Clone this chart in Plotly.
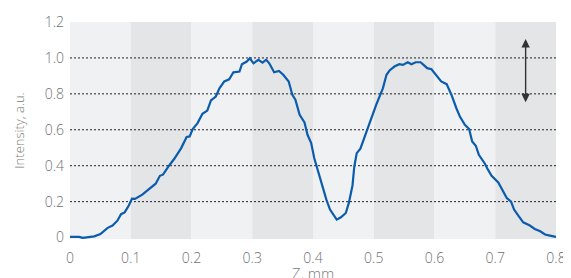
import plotly.graph_objects as go

z_mm = [0.0, 0.015, 0.021, 0.03, 0.04, 0.05, 0.062, 0.07, 0.078, 0.084,
        0.09, 0.097, 0.102, 0.107, 0.119, 0.13, 0.141, 0.148, 0.153, 0.163,
        0.172, 0.183, 0.192, 0.197, 0.202, 0.21, 0.218, 0.226, 0.232, 0.24,
        0.246, 0.254, 0.262, 0.269, 0.279, 0.283, 0.291, 0.296, 0.302, 0.31,
        0.317, 0.323, 0.328, 0.336, 0.344, 0.351, 0.36, 0.366, 0.371, 0.378,
        0.386, 0.391, 0.397, 0.402, 0.408, 0.416, 0.422, 0.428, 0.434, 0.439,
        0.446, 0.454, 0.459, 0.465, 0.468, 0.472, 0.478, 0.483, 0.489, 0.496,
        0.504, 0.515, 0.521, 0.526, 0.534, 0.542, 0.548, 0.556, 0.562, 0.569,
        0.577, 0.582, 0.588, 0.595, 0.603, 0.611, 0.62, 0.628, 0.636, 0.642,
        0.65, 0.657, 0.662, 0.668, 0.673, 0.683, 0.688, 0.694, 0.705, 0.713,
        0.719, 0.726, 0.731, 0.738, 0.746, 0.757, 0.765, 0.774, 0.782, 0.79,
        0.80]
intensity = [0.004, 0.004, -0.002, 0.003, 0.007, 0.02, 0.054, 0.067, 0.094, 0.13,
             0.14, 0.18, 0.217, 0.215, 0.239, 0.27, 0.30, 0.344, 0.35, 0.40,
             0.44, 0.498, 0.56, 0.563, 0.604, 0.637, 0.689, 0.707, 0.763, 0.785,
             0.831, 0.869, 0.881, 0.92, 0.924, 0.965, 0.98, 0.998, 0.97, 0.989,
             0.974, 0.99, 0.97, 0.92, 0.928, 0.906, 0.869, 0.794, 0.767, 0.683,
             0.641, 0.572, 0.526, 0.443, 0.369, 0.276, 0.211, 0.156, 0.122, 0.10,
             0.113, 0.137, 0.193, 0.29, 0.396, 0.47, 0.495, 0.544, 0.60, 0.665,
             0.739, 0.831, 0.906, 0.93, 0.952, 0.965, 0.961, 0.976, 0.965, 0.976,
             0.976, 0.961, 0.943, 0.937, 0.90, 0.869, 0.854, 0.794, 0.72, 0.672,
             0.628, 0.604, 0.535, 0.511, 0.461, 0.411, 0.378, 0.344, 0.307, 0.252,
             0.22, 0.20, 0.156, 0.122, 0.085, 0.067, 0.048, 0.035, 0.017, 0.011,
             0.004]
assert len(z_mm) == len(intensity)

x_ticks = [0, 0.1, 0.2, 0.3, 0.4, 0.5, 0.6, 0.7, 0.8]
x_tick_labels = ["0", "0.1", "0.2", "0.3", "0.4", "0.5", "0.6", "0.7", "0.8"]
y_ticks = [0, 0.2, 0.4, 0.6, 0.8, 1.0, 1.2]
y_tick_labels = ["0", "0.2", "0.4", "0.6", "0.8", "1.0", "1.2"]
grid_levels = [0.2, 0.4, 0.6, 0.8, 1.0]
band_edges = [0, 0.1, 0.2, 0.3, 0.4, 0.5, 0.6, 0.7, 0.8]
arrow_z = 0.75
arrow_low = 0.745
arrow_high = 1.105
x_title = "Z, mm"
y_title = "Intensity, a.u."

LIGHT = "rgb(240,241,243)"
DARK = "rgb(228,229,231)"
TXT = "#707070"
FONT = "Open Sans"

fig = go.Figure()
fig.add_trace(go.Scatter(x=z_mm, y=intensity, mode="lines",
                         line=dict(color="#0b5cad", width=2.2),
                         showlegend=False, hoverinfo="skip"))

shapes = []
for i in range(len(band_edges) - 1):
    shapes.append(dict(type="rect", xref="x", yref="paper",
                       x0=band_edges[i], x1=band_edges[i + 1], y0=0, y1=1,
                       fillcolor=LIGHT if i % 2 == 0 else DARK,
                       line=dict(width=0), layer="below"))
for g in grid_levels:
    shapes.append(dict(type="line", xref="paper", yref="y", x0=0, x1=1, y0=g, y1=g,
                       line=dict(color="#222222", width=1, dash="2px,2px"),
                       layer="below"))

fig.add_annotation(x=arrow_z, y=arrow_high, ax=arrow_z, ay=arrow_low,
                   xref="x", yref="y", axref="x", ayref="y", text="",
                   showarrow=True, arrowhead=2, arrowside="end+start",
                   arrowsize=1.2, arrowwidth=1.4, arrowcolor="#333333")

# x-axis title, placed below the tick labels
fig.add_annotation(x=0.5, y=0, xref="paper", yref="paper", text=x_title,
                   showarrow=False, xanchor="center", yanchor="middle", yshift=-34,
                   font=dict(family=FONT, size=15, color="#7a7a7a", weight=300))

# page body has an 8px margin, so the figure is offset by 8px
fig.update_layout(
    width=563, height=270,
    margin=dict(l=62, r=15, t=14, b=39),
    paper_bgcolor="white", plot_bgcolor="white",
    shapes=shapes,
    font=dict(family=FONT, size=14, color=TXT, weight=300),
    xaxis=dict(range=[0, 0.8], tickvals=x_ticks, ticktext=x_tick_labels,
               showgrid=False, zeroline=False, showline=False, ticks="",
               ticklabelstandoff=9, automargin=False),
    yaxis=dict(range=[-0.008, 1.2], tickvals=y_ticks, ticktext=y_tick_labels,
               showgrid=False, zeroline=False, showline=False, ticks="",
               ticklabelstandoff=5, automargin=False,
               title=dict(text=y_title, standoff=17,
                          font=dict(size=13, color="#7a7a7a", weight=300))),
)

fig.write_html("out.html")
